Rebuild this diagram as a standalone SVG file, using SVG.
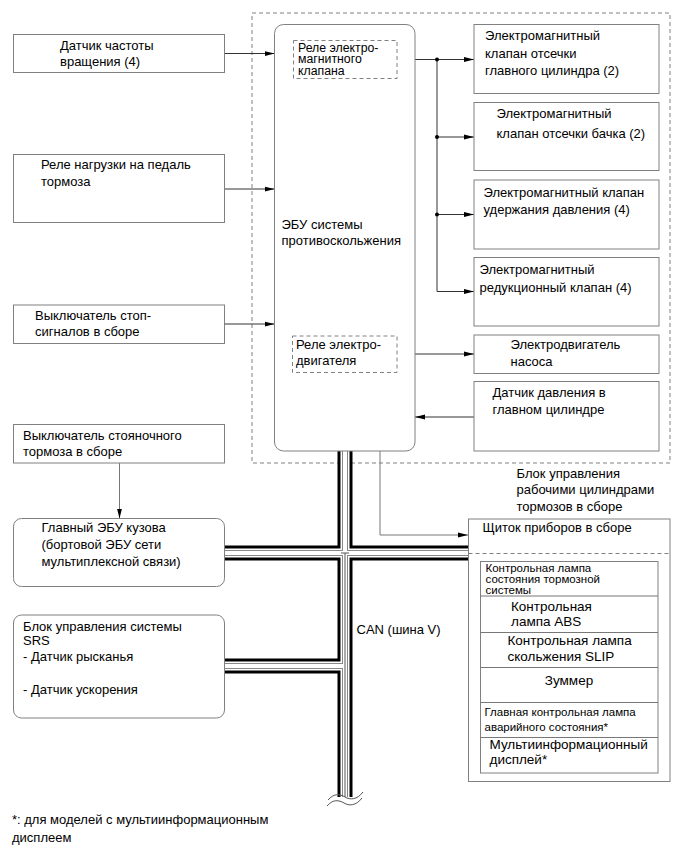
<svg xmlns="http://www.w3.org/2000/svg" width="687" height="857" viewBox="0 0 687 857">
<style>
text{font-family:"Liberation Sans",Arial,sans-serif;font-size:13px;fill:#000}
.box{fill:#fff;stroke:#808080;stroke-width:1}
.dash{fill:none;stroke:#808080;stroke-width:1;stroke-dasharray:4 3}
.ln{fill:none;stroke:#333;stroke-width:1}
.lg{fill:none;stroke:#777;stroke-width:1}
.sm{font-size:11.5px}
.md{font-size:13.5px}
.rl{font-size:12.3px}
</style>
<defs>
<marker id="ah" viewBox="0 0 10 6" refX="10" refY="3" markerWidth="10" markerHeight="6" markerUnits="userSpaceOnUse" orient="auto">
<path d="M0,0.5 L10,3 L0,5.5 Z" fill="#000"/>
</marker>
</defs>
<rect width="687" height="857" fill="#fff"/>
<rect id="actuator-boundary" class="dash" x="252" y="13" width="418" height="450"/>

<g id="connectors">
<line class="ln" x1="224" y1="53.5" x2="274.5" y2="53.5" marker-end="url(#ah)"/>
<line class="ln" x1="224" y1="189" x2="274.5" y2="189" marker-end="url(#ah)"/>
<line class="ln" x1="224" y1="324" x2="274.5" y2="324" marker-end="url(#ah)"/>
<line class="lg" x1="119.5" y1="463" x2="119.5" y2="518.5" marker-end="url(#ah)"/>
<line class="ln" x1="397" y1="59.5" x2="474" y2="59.5" marker-end="url(#ah)"/>
<polyline class="ln" points="437,59.5 437,291.5 474,291.5" marker-end="url(#ah)"/>
<line class="ln" x1="437" y1="137" x2="474" y2="137" marker-end="url(#ah)"/>
<line class="ln" x1="437" y1="214.5" x2="474" y2="214.5" marker-end="url(#ah)"/>
<circle cx="437" cy="59.5" r="2" fill="#000"/>
<circle cx="437" cy="137" r="2" fill="#000"/>
<circle cx="437" cy="214.5" r="2" fill="#000"/>
<line class="ln" x1="397" y1="354" x2="474" y2="354" marker-end="url(#ah)"/>
<line class="ln" x1="474" y1="417" x2="415" y2="417" marker-end="url(#ah)"/>
<polyline class="lg" points="380,451 380,535 468,535" marker-end="url(#ah)"/>
<g id="can-bus">
<path d="M345,451 V797 M224,553 H468 M224,666 H345" fill="none" stroke="#000" stroke-width="15"/>
<path d="M345,451 V797 M224,553 H468 M224,666 H345" fill="none" stroke="#fff" stroke-width="9"/>
<path d="M345,451 V797 M224,553 H468 M224,666 H345" fill="none" stroke="#888" stroke-width="6"/>
<path d="M345,451 V797 M224,553 H468 M224,666 H345" fill="none" stroke="#fff" stroke-width="4"/>
<path d="M345,553 V797 M341,553 H349" fill="none" stroke="#555" stroke-width="1"/>
<path d="M328,800 C334,793 340,794 345,797 S357,800 363,792" fill="none" stroke="#555" stroke-width="1"/>
<path d="M327,806 C333,799 339,800 344,803 S356,806 362,798" fill="none" stroke="#555" stroke-width="1"/>
</g>
</g>

<g id="speed-sensor">
<rect class="box" x="13.5" y="34.5" width="211" height="38"/>
<text x="60" y="49.5">Датчик частоты</text>
<text x="60" y="66">вращения (4)</text>
</g>
<g id="brake-pedal-relay">
<rect class="box" x="13.5" y="154.5" width="211" height="68"/>
<text x="41" y="169">Реле нагрузки на педаль</text>
<text x="41" y="185.5">тормоза</text>
</g>
<g id="stop-light-switch">
<rect class="box" x="13.5" y="305" width="211" height="38.5"/>
<text x="35" y="320">Выключатель стоп-</text>
<text x="35" y="336">сигналов в сборе</text>
</g>
<g id="parking-brake-switch">
<rect class="box" x="13.5" y="424.5" width="211" height="38.5"/>
<text x="23" y="439.5">Выключатель стояночного</text>
<text x="23" y="456">тормоза в сборе</text>
</g>
<g id="main-body-ecu">
<rect class="box" x="13.5" y="518.5" width="211" height="68" rx="8"/>
<text x="41.5" y="532">Главный ЭБУ кузова</text>
<text x="41.5" y="549">(бортовой ЭБУ сети</text>
<text x="41.5" y="566">мультиплексной связи)</text>
</g>
<g id="srs-ecu">
<rect class="box" x="13.5" y="615" width="211" height="103" rx="8"/>
<text x="23" y="631">Блок управления системы</text>
<text x="23" y="645">SRS</text>
<text x="23" y="661">- Датчик рысканья</text>
<text x="23" y="694">- Датчик ускорения</text>
</g>

<g id="skid-control-ecu">
<rect class="box" x="274.5" y="24.5" width="140.5" height="426.5" rx="9"/>
<text x="281.5" y="228.5">ЭБУ системы</text>
<text x="281.5" y="244.5">противоскольжения</text>
</g>
<g id="solenoid-relay">
<rect class="dash" x="293.5" y="40.5" width="103.5" height="38"/>
<text class="rl" x="298" y="51.5">Реле электро-</text>
<text class="rl" x="298" y="63">магнитного</text>
<text class="rl" x="298" y="74.5">клапана</text>
</g>
<g id="motor-relay">
<rect class="dash" x="292.5" y="336" width="104.5" height="36.5"/>
<text x="296" y="349">Реле электро-</text>
<text x="296" y="364.5">двигателя</text>
</g>

<g id="master-cut-solenoid">
<rect class="box" x="474" y="24.5" width="185" height="69"/>
<text x="485" y="40">Электромагнитный</text>
<text x="485" y="57.5">клапан отсечки</text>
<text x="485" y="75">главного цилиндра (2)</text>
</g>
<g id="reservoir-cut-solenoid">
<rect class="box" x="474" y="102.5" width="185" height="68"/>
<text x="496.5" y="118">Электромагнитный</text>
<text x="496.5" y="137.5">клапан отсечки бачка (2)</text>
</g>
<g id="holding-solenoid">
<rect class="box" x="474" y="180" width="185" height="69"/>
<text x="483.5" y="197">Электромагнитный клапан</text>
<text x="483.5" y="214">удержания давления (4)</text>
</g>
<g id="reduction-solenoid">
<rect class="box" x="474" y="257.5" width="185" height="68.5"/>
<text x="479.5" y="274">Электромагнитный</text>
<text x="479.5" y="291.5">редукционный клапан (4)</text>
</g>
<g id="pump-motor">
<rect class="box" x="474" y="335" width="185" height="38.5"/>
<text x="510.5" y="349">Электродвигатель</text>
<text x="510.5" y="366">насоса</text>
</g>
<g id="master-pressure-sensor">
<rect class="box" x="474" y="381.5" width="185" height="69.5"/>
<text x="492.5" y="397">Датчик давления в</text>
<text x="492.5" y="413.5">главном цилиндре</text>
</g>
<g id="actuator-label">
<text x="516.5" y="477.5">Блок управления</text>
<text x="516.5" y="494">рабочими цилиндрами</text>
<text x="516.5" y="510.5">тормозов в сборе</text>
</g>

<g id="combination-meter">
<rect class="box" x="468.5" y="519" width="201.5" height="262.5"/>
<text x="482.5" y="531.5">Щиток приборов в сборе</text>
<line class="dash" x1="468.5" y1="553.5" x2="670" y2="553.5"/>
<rect class="box" x="480.5" y="561.5" width="177.5" height="211.5"/>
<line class="lg" x1="480.5" y1="596" x2="658" y2="596"/>
<line class="lg" x1="480.5" y1="632.5" x2="658" y2="632.5"/>
<line class="lg" x1="480.5" y1="667.5" x2="658" y2="667.5"/>
<line class="lg" x1="480.5" y1="702.5" x2="658" y2="702.5"/>
<line class="lg" x1="480.5" y1="737.5" x2="658" y2="737.5"/>
<text class="sm" x="485.5" y="571.5">Контрольная лампа</text>
<text class="sm" x="485.5" y="582.5">состояния тормозной</text>
<text class="sm" x="485.5" y="593.5">системы</text>
<text class="md" x="511" y="610.5">Контрольная</text>
<text class="md" x="511" y="625.5">лампа ABS</text>
<text class="md" x="507.5" y="645">Контрольная лампа</text>
<text class="md" x="507.5" y="661">скольжения SLIP</text>
<text class="md" x="569" y="684.5" text-anchor="middle">Зуммер</text>
<text class="sm" x="484.5" y="716">Главная контрольная лампа</text>
<text class="sm" x="484.5" y="731">аварийного состояния*</text>
<text class="md" x="489.5" y="748.5">Мультиинформационный</text>
<text class="md" x="489.5" y="763.5">дисплей*</text>
</g>

<text x="356.5" y="634">CAN (шина V)</text>
<g id="footnote">
<text x="12" y="824">*: для моделей с мультиинформационным</text>
<text x="12" y="842">дисплеем</text>
</g>
</svg>
